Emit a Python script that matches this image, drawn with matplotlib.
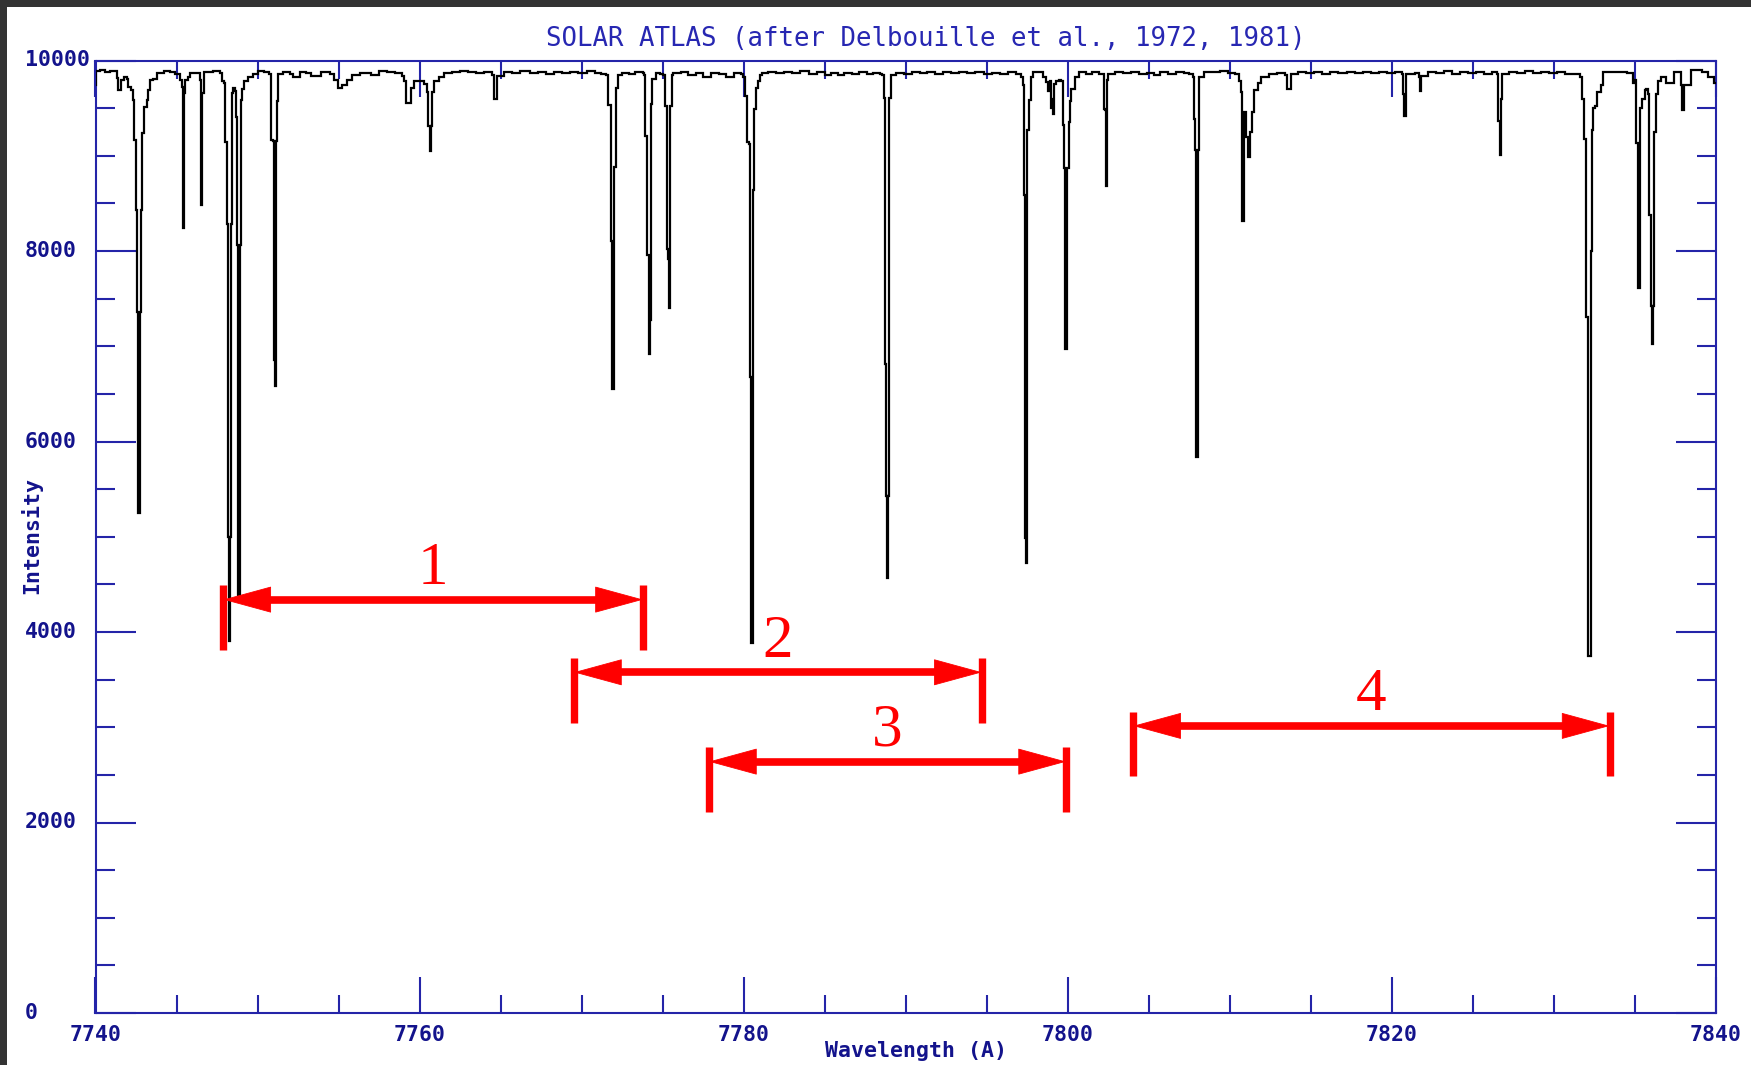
import matplotlib
matplotlib.use("Agg")
import matplotlib.pyplot as plt
from matplotlib.patches import Rectangle, FancyArrowPatch
from matplotlib.ticker import MultipleLocator
from matplotlib.transforms import blended_transform_factory

# ---------------- data ----------------
wavelength = [
    7740.00, 7740.03, 7740.30, 7740.60, 7740.90, 7741.25, 7741.32, 7741.40, 7741.55, 7741.57,
    7741.73, 7741.93, 7742.03, 7742.19, 7742.33, 7742.40, 7742.48, 7742.50, 7742.57, 7742.61,
    7742.65, 7742.70, 7742.73, 7742.77, 7742.82, 7742.88, 7742.95, 7743.01, 7743.15, 7743.21,
    7743.36, 7743.57, 7743.78, 7744.20, 7744.60, 7744.90, 7745.20, 7745.31, 7745.37, 7745.40,
    7745.45, 7745.48, 7745.52, 7745.69, 7745.83, 7746.35, 7746.45, 7746.51, 7746.53, 7746.58,
    7746.60, 7746.69, 7747.27, 7747.68, 7747.82, 7747.95, 7748.02, 7748.10, 7748.16, 7748.21,
    7748.26, 7748.30, 7748.34, 7748.40, 7748.50, 7748.62, 7748.68, 7748.72, 7748.78, 7748.82,
    7748.86, 7748.89, 7748.93, 7748.98, 7749.05, 7749.16, 7749.40, 7749.70, 7750.00, 7750.40,
    7750.70, 7750.80, 7750.86, 7750.98, 7751.02, 7751.05, 7751.09, 7751.12, 7751.14, 7751.18,
    7751.28, 7751.60, 7752.00, 7752.20, 7752.60, 7753.00, 7753.30, 7753.90, 7754.50, 7754.70,
    7754.95, 7755.20, 7755.50, 7755.80, 7756.30, 7757.00, 7757.50, 7758.00, 7758.50, 7758.90,
    7759.03, 7759.14, 7759.44, 7759.49, 7759.65, 7759.96, 7760.30, 7760.47, 7760.53, 7760.60,
    7760.64, 7760.68, 7760.74, 7760.88, 7761.19, 7761.50, 7762.00, 7762.50, 7763.00, 7763.50,
    7764.00, 7764.45, 7764.58, 7764.75, 7764.78, 7765.20, 7765.70, 7766.20, 7766.80, 7767.30,
    7767.80, 7768.30, 7768.80, 7769.30, 7769.80, 7770.30, 7770.80, 7771.20, 7771.53, 7771.64,
    7771.76, 7771.81, 7771.88, 7771.90, 7771.97, 7772.00, 7772.07, 7772.11, 7772.23, 7772.46,
    7772.90, 7773.30, 7773.76, 7773.87, 7773.94, 7774.04, 7774.06, 7774.13, 7774.20, 7774.23,
    7774.27, 7774.37, 7774.58, 7774.85, 7775.05, 7775.16, 7775.26, 7775.33, 7775.38, 7775.42,
    7775.44, 7775.47, 7775.56, 7775.63, 7776.10, 7776.57, 7777.04, 7777.51, 7777.98, 7778.45,
    7778.92, 7779.39, 7779.86, 7779.98, 7780.09, 7780.21, 7780.30, 7780.38, 7780.45, 7780.48,
    7780.52, 7780.56, 7780.58, 7780.65, 7780.75, 7780.87, 7781.00, 7781.10, 7781.50, 7782.00,
    7782.50, 7783.00, 7783.50, 7784.00, 7784.50, 7785.00, 7785.40, 7785.80, 7786.20, 7786.70,
    7787.10, 7787.60, 7788.00, 7788.40, 7788.54, 7788.66, 7788.71, 7788.78, 7788.83, 7788.87,
    7788.90, 7788.94, 7789.08, 7789.40, 7789.90, 7790.40, 7790.90, 7791.30, 7791.80, 7792.30,
    7792.80, 7793.30, 7793.80, 7794.30, 7794.80, 7795.30, 7795.80, 7796.30, 7796.80, 7797.11,
    7797.23, 7797.30, 7797.35, 7797.39, 7797.43, 7797.46, 7797.51, 7797.58, 7797.70, 7797.85,
    7798.20, 7798.50, 7798.68, 7798.78, 7798.88, 7798.98, 7799.03, 7799.08, 7799.15, 7799.25,
    7799.45, 7799.60, 7799.71, 7799.77, 7799.83, 7799.88, 7799.95, 7800.00, 7800.06, 7800.12,
    7800.22, 7800.43, 7800.70, 7801.10, 7801.50, 7801.90, 7802.20, 7802.25, 7802.30, 7802.33,
    7802.39, 7802.41, 7802.44, 7802.50, 7802.90, 7803.40, 7803.90, 7804.40, 7804.90, 7805.30,
    7805.70, 7806.20, 7806.70, 7807.20, 7807.50, 7807.72, 7807.79, 7807.88, 7807.93, 7808.00,
    7808.05, 7808.12, 7808.40, 7808.90, 7809.40, 7809.90, 7810.30, 7810.54, 7810.68, 7810.73,
    7810.78, 7810.82, 7810.87, 7810.96, 7811.01, 7811.11, 7811.20, 7811.27, 7811.36, 7811.48,
    7811.72, 7811.95, 7812.40, 7812.90, 7813.40, 7813.55, 7813.65, 7813.75, 7814.20, 7814.70,
    7815.20, 7815.70, 7816.20, 7816.70, 7817.20, 7817.70, 7818.20, 7818.70, 7819.20, 7819.70,
    7820.20, 7820.60, 7820.68, 7820.75, 7820.82, 7820.88, 7821.40, 7821.65, 7821.72, 7821.80,
    7822.20, 7822.70, 7823.20, 7823.70, 7824.20, 7824.70, 7825.20, 7825.70, 7826.20, 7826.50,
    7826.55, 7826.62, 7826.66, 7826.70, 7826.73, 7826.80, 7827.20, 7827.70, 7828.20, 7828.70,
    7829.20, 7829.70, 7830.20, 7830.70, 7831.20, 7831.60, 7831.76, 7831.86, 7831.95, 7832.05,
    7832.09, 7832.21, 7832.26, 7832.35, 7832.42, 7832.55, 7832.66, 7832.89, 7833.01, 7833.50,
    7834.00, 7834.50, 7834.90, 7835.01, 7835.08, 7835.15, 7835.18, 7835.25, 7835.29, 7835.32,
    7835.44, 7835.60, 7835.70, 7835.80, 7835.88, 7835.98, 7836.02, 7836.09, 7836.12, 7836.16,
    7836.28, 7836.40, 7836.60, 7836.90, 7837.38, 7837.85, 7837.90, 7837.95, 7838.00, 7838.45,
    7839.15, 7839.50, 7839.90, 7840.00,
]

intensity = [
    9740, 9890, 9900, 9880, 9895, 9885, 9820, 9690, 9690, 9800,
    9830, 9810, 9725, 9690, 9585, 9165, 9165, 8430, 7360, 5755,
    5250, 5250, 5755, 7360, 8430, 9235, 9235, 9515, 9585, 9690,
    9800, 9810, 9865, 9890, 9875, 9860, 9800, 9720, 9655, 8240,
    8240, 9655, 9795, 9830, 9870, 9870, 9795, 9655, 8480, 8480,
    9655, 9880, 9890, 9865, 9780, 9760, 9140, 8280, 5000, 3910,
    3910, 5000, 8280, 9660, 9710, 9680, 9410, 8065, 5000, 4390,
    4390, 5000, 8065, 9590, 9700, 9790, 9830, 9860, 9885, 9880,
    9860, 9840, 9165, 9160, 6860, 6580, 6580, 6860, 9160, 9580,
    9860, 9880, 9860, 9825, 9880, 9870, 9840, 9880, 9855, 9800,
    9715, 9740, 9800, 9845, 9865, 9850, 9885, 9880, 9870, 9840,
    9790, 9550, 9550, 9710, 9790, 9790, 9750, 9670, 9310, 9310,
    9050, 9310, 9670, 9790, 9830, 9870, 9880, 9885, 9875, 9865,
    9875, 9850, 9600, 9600, 9840, 9880, 9870, 9885, 9870, 9880,
    9860, 9880, 9870, 9880, 9870, 9885, 9870, 9860, 9850, 9528,
    9528, 8100, 8100, 6554, 6554, 8885, 8885, 9708, 9849, 9870,
    9860, 9880, 9869, 9849, 9206, 9206, 7960, 6916, 6916, 7278,
    9547, 9808, 9870, 9860, 9849, 9527, 8020, 7920, 7397, 7397,
    7920, 9527, 9849, 9870, 9880, 9850, 9870, 9830, 9870, 9862,
    9830, 9870, 9862, 9829, 9628, 9146, 9120, 6675, 4505, 3883,
    3883, 4505, 8645, 9487, 9708, 9789, 9849, 9870, 9880, 9865,
    9880, 9870, 9885, 9860, 9875, 9850, 9870, 9845, 9870, 9855,
    9875, 9860, 9870, 9860, 9849, 9608, 6815, 5429, 4565, 4565,
    5429, 9608, 9849, 9870, 9860, 9875, 9870, 9880, 9860, 9875,
    9865, 9880, 9870, 9880, 9860, 9870, 9860, 9875, 9855, 9829,
    9748, 8583, 4987, 4726, 4726, 4987, 9266, 9588, 9829, 9880,
    9875, 9830, 9770, 9680, 9790, 9500, 9600, 9435, 9750, 9790,
    9800, 9780, 9320, 8870, 6975, 6975, 8870, 8870, 9350, 9580,
    9700, 9830, 9880, 9860, 9875, 9860, 9860, 9490, 9480, 8680,
    8680, 9090, 9800, 9860, 9880, 9870, 9880, 9860, 9870, 9850,
    9875, 9860, 9880, 9870, 9860, 9831, 9387, 9059, 5842, 5842,
    9059, 9831, 9880, 9875, 9885, 9870, 9860, 9785, 9668, 8731,
    8310, 8310, 9457, 9457, 9199, 8989, 8989, 9246, 9457, 9691,
    9761, 9831, 9860, 9870, 9850, 9700, 9700, 9860, 9875, 9870,
    9880, 9855, 9875, 9865, 9880, 9870, 9880, 9865, 9880, 9870,
    9880, 9860, 9650, 9420, 9420, 9860, 9870, 9830, 9680, 9840,
    9875, 9870, 9885, 9860, 9875, 9870, 9880, 9860, 9875, 9860,
    9363, 9363, 9012, 9012, 9600, 9860, 9880, 9870, 9885, 9870,
    9880, 9865, 9875, 9860, 9860, 9831, 9597, 9176, 7303, 7303,
    3745, 3745, 8005, 9270, 9504, 9520, 9668, 9738, 9878, 9880,
    9875, 9870, 9761, 9800, 9129, 9129, 7607, 7607, 7748, 9504,
    9597, 9691, 9700, 9644, 8380, 7420, 7022, 7022, 7420, 9246,
    9644, 9785, 9830, 9761, 9878, 9738, 9480, 9480, 9738, 9900,
    9878, 9831, 9761, 9761,
]

# marked wavelength intervals (red double arrows)
span_labels = ["1", "2", "3", "4"]
span_start = [7747.88, 7769.52, 7777.85, 7804.03]
span_end = [7773.79, 7794.70, 7799.90, 7833.44]
span_level = [4340, 3577, 2639, 3014]

x_major = [7740, 7760, 7780, 7800, 7820, 7840]
y_major = [0, 2000, 4000, 6000, 8000, 10000]

title = "SOLAR ATLAS (after Delbouille et al., 1972, 1981)"
xlabel = "Wavelength (A)"
ylabel = "Intensity"

# ---------------- styling ----------------
W, H = 1751, 1065
AXIS_BLUE = "#2424a8"
TEXT_BLUE = "#13138c"
TITLE_BLUE = "#2727b2"
MONO = "DejaVu Sans Mono"
RED = "#ff0000"
LABEL_SIZE = 15.5

fig = plt.figure(figsize=(W / 100, H / 100), dpi=100)
fig.patch.set_facecolor("white")

left, right, top, bottom = 95.5, 1716.0, 60.5, 1013.0
ax = fig.add_axes([left / W, 1 - bottom / H, (right - left) / W, (bottom - top) / H])
ax.set_xlim(7740, 7840)
ax.set_ylim(0, 10000)

ax.plot(wavelength, intensity, color="black", lw=1.6, drawstyle="steps-post",
        solid_joinstyle="miter", zorder=3)

for s in ax.spines.values():
    s.set_color(AXIS_BLUE)
    s.set_linewidth(1.5)

ax.xaxis.set_major_locator(MultipleLocator(20))
ax.xaxis.set_minor_locator(MultipleLocator(5))
ax.yaxis.set_major_locator(MultipleLocator(2000))
ax.yaxis.set_minor_locator(MultipleLocator(500))
ax.tick_params(axis="x", which="both", direction="in", top=True, bottom=True,
               color=AXIS_BLUE, width=1.5)
ax.tick_params(axis="x", which="major", length=26, pad=8.5,
               labelsize=LABEL_SIZE, labelcolor=TEXT_BLUE)
ax.tick_params(axis="x", which="minor", length=13)
ax.tick_params(axis="y", which="both", direction="in", left=True, right=True,
               color=AXIS_BLUE, width=1.5, labelleft=False)
ax.tick_params(axis="y", which="major", length=28.5)
ax.tick_params(axis="y", which="minor", length=14)
ax.set_xticks(x_major)
ax.set_xticklabels([str(v) for v in x_major], fontfamily=MONO, fontweight="bold")

# y tick labels: left aligned near figure edge
trans = blended_transform_factory(fig.transFigure, ax.transData)
for v in y_major:
    ax.text(24.5 / W, v, str(v), transform=trans, ha="left", va="center",
            fontsize=LABEL_SIZE, fontfamily=MONO, fontweight="bold", color=TEXT_BLUE,
            clip_on=False)

fig.text(926 / W, 1 - 39 / H, title, ha="center", va="center", fontsize=18.5,
         fontfamily=MONO, color=TITLE_BLUE)
fig.text(916 / W, 1 - 1051 / H, xlabel, ha="center", va="center", fontsize=LABEL_SIZE,
         fontfamily=MONO, fontweight="bold", color=TEXT_BLUE)
fig.text(31 / W, 1 - 536 / H, ylabel, ha="center", va="center", rotation=90,
         fontsize=LABEL_SIZE, fontfamily=MONO, fontweight="bold", color=TEXT_BLUE)

# red interval arrows
for lab, s, e, lev in zip(span_labels, span_start, span_end, span_level):
    # thick shaft, stopping inside the arrow heads
    ax.plot([s + 1.4, e - 1.4], [lev, lev], color=RED, lw=5.5,
            solid_capstyle="butt", zorder=5)
    # slender filled heads with their tips on the end bars
    arr = FancyArrowPatch((s, lev), (e, lev),
                          arrowstyle="<|-|>,head_length=33,head_width=9",
                          mutation_scale=1, shrinkA=0, shrinkB=0,
                          color=RED, lw=0.6, zorder=5, clip_on=False)
    ax.add_patch(arr)
    for xv in (s, e):
        ax.plot([xv, xv], [lev - 530, lev + 150], color=RED, lw=5.3,
                solid_capstyle="butt", zorder=5)
    ax.text((s + e) / 2, lev + 165, lab, ha="center", va="baseline",
            fontsize=44, fontfamily="Liberation Serif", color=RED, zorder=6)

# dark frame band (top and left)
fig.patches.append(Rectangle((0, 1 - 7 / H), 1, 7 / H, transform=fig.transFigure,
                             facecolor="#333333", edgecolor="none", zorder=10))
fig.patches.append(Rectangle((0, 0), 7 / W, 1, transform=fig.transFigure,
                             facecolor="#333333", edgecolor="none", zorder=10))

fig.savefig("out.png", dpi=100)
